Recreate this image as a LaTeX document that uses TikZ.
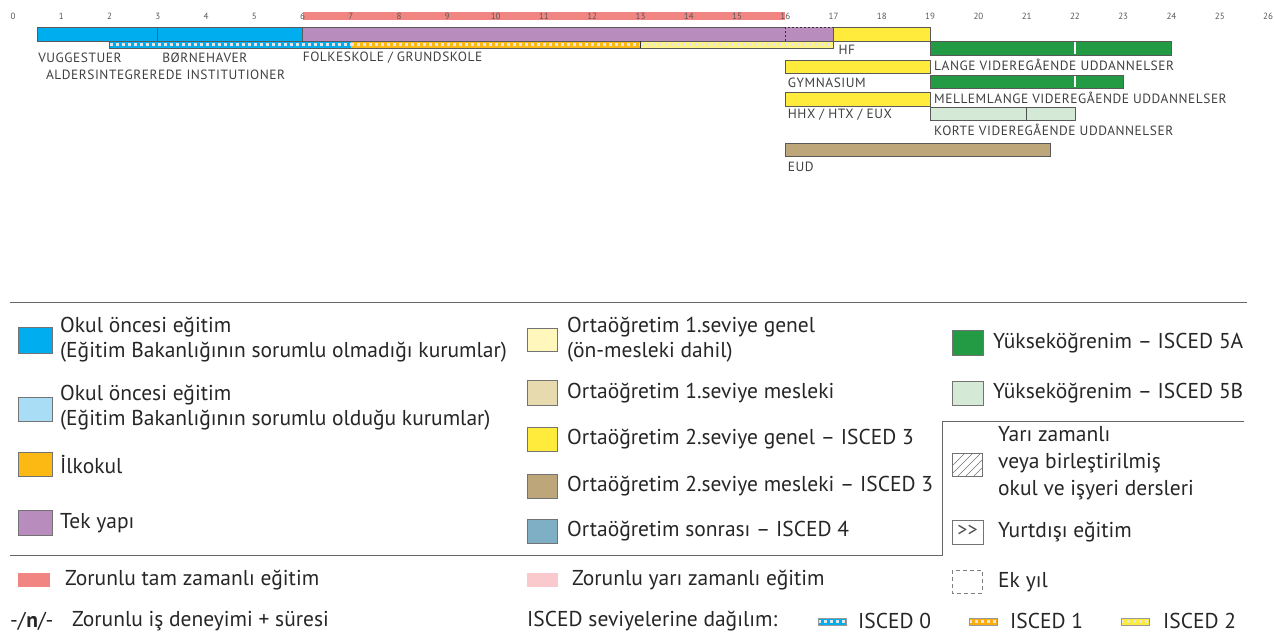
\documentclass[tikz,border=0pt]{standalone}
\usepackage{fontspec}
\setmainfont{PT Sans}
\newfontfamily\capsfont[LetterSpace=4]{PT Sans}
\usepackage[HTML]{xcolor}
\usetikzlibrary{positioning}

\definecolor{preblue}{HTML}{00AEEF}
\definecolor{prelight}{HTML}{A8DDF5}
\definecolor{primorange}{HTML}{FDB913}
\definecolor{unipurple}{HTML}{B88CBD}
\definecolor{lowgen}{HTML}{FFF7BC}
\definecolor{lowvoc}{HTML}{E6DAAE}
\definecolor{upgen}{HTML}{FFEB3B}
\definecolor{upvoc}{HTML}{BDA77A}
\definecolor{postsec}{HTML}{7FAFC4}
\definecolor{highA}{HTML}{239B45}
\definecolor{highB}{HTML}{D5EAD6}
\definecolor{fulltime}{HTML}{F18582}
\definecolor{parttime}{HTML}{F9C9CE}

\begin{document}
\begin{tikzpicture}[x=1pt, y=-1pt,
  bar/.style={draw=black!65, line width=0.8pt},
  swatch/.style={draw=black!55, line width=0.7pt},
  stripe/.style={gray!20, line width=3pt, dash pattern=on 3pt off 3pt},
  capl/.style={font=\capsfont\fontsize{13.4}{13.4}\selectfont, text=black!75, anchor=west, inner sep=0pt},
  txt/.style={font=\fontsize{21.5}{25}\selectfont, text=black!85, anchor=west, inner sep=0pt, align=left},
  tick/.style={font=\fontsize{9}{9}\selectfont, text=black!65, inner sep=0pt},
  rule/.style={draw=black!60, line width=1pt}]
\useasboundingbox (0,0) rectangle (1274,643);

% time line, one unit = one year of age
\begin{scope}[shift={(13,0)}, x=48.27pt]
\fill[fulltime] (6,12) rectangle (16,20);
\foreach \n in {0,...,26}
  \node[tick] (t\n) at (\n,16) {\n};

% pre-school and folkeskole
\fill[preblue] (0.5,27) rectangle (6,41);
\draw[bar] (0.5,27) rectangle (3,41);
\draw[bar] (3,27) rectangle (6,41);
\draw[bar, fill=unipurple] (6,27) rectangle (16,41);
\fill[unipurple] (16,27) rectangle (17,41);
\draw[black!80, line width=1pt, dash pattern=on 2pt off 2pt] (16,27) rectangle (17,41);

% ISCED levels
\fill[preblue] (2,41) rectangle (7,48);
\draw[stripe] (2,44.5) -- (7,44.5);
\fill[primorange] (7,41) rectangle (13,48);
\draw[stripe] (7,44.5) -- (13,44.5);
\fill[lowgen!60!upgen] (13,41) rectangle (17,48);
\draw[stripe] (13,44.5) -- (17,44.5);
\draw[bar] (2,41) rectangle (17,48);
\draw[black!80, line width=1.4pt] (13,41) -- (13,48);

\node[capl] (vugge) at (0.52,58) {VUGGESTUER};
\node[capl] (boern) at (3.09,58) {BØRNEHAVER};
\node[capl] (folke) at (6,58) {FOLKESKOLE / GRUNDSKOLE};
\node[capl] (alder) at (0.68,75) {ALDERSINTEGREREDE INSTITUTIONER};

% upper secondary
\draw[bar, fill=upgen] (17,27) rectangle (19,41);
\node[capl] (hf) at (17.1,50) {HF};
\draw[bar, fill=upgen] (16,60) rectangle (19,73);
\node[capl] (gym) at (16.05,83) {GYMNASIUM};
\draw[bar, fill=upgen] (16,92) rectangle (19,106);
\node[capl] (hhx) at (16.05,115) {HHX / HTX / EUX};
\draw[bar, fill=upvoc] (16,143) rectangle (21.5,156);
\node[capl] (eud) at (16.05,167) {EUD};

% higher education
\draw[bar, fill=highA] (19,41) rectangle (24,55);
\draw[white, line width=1.2pt] (22,42) -- (22,54);
\node[capl] (lange) at (19.08,65) {LANGE VIDEREGÅENDE UDDANNELSER};
\draw[bar, fill=highA] (19,75) rectangle (23,88);
\draw[white, line width=1.2pt] (22,76) -- (22,87);
\node[capl] (mellem) at (19.08,98) {MELLEMLANGE VIDEREGÅENDE UDDANNELSER};
\draw[bar, fill=highB] (19,107) rectangle (22,120);
\draw[black!70, line width=1pt] (21,107) -- (21,120);
\node[capl] (korte) at (19.08,130) {KORTE VIDEREGÅENDE UDDANNELSER};
\end{scope}

% legend frame
\draw[rule] (10,302) -- (1247,302);
\draw[rule] (10,555) -- (942,555) -- (942,421) -- (1244,421);

% column 1
\draw[swatch, fill=preblue] (18,327) rectangle (52,353);
\node[txt] (okul1) at (60,340) {Okul öncesi eğitim\\(Eğitim Bakanlığının sorumlu olmadığı kurumlar)};
\draw[swatch, fill=prelight] (18,397) rectangle (52,421);
\node[txt] (okul2) at (60,408) {Okul öncesi eğitim\\(Eğitim Bakanlığının sorumlu olduğu kurumlar)};
\draw[swatch, fill=primorange] (18,452) rectangle (52,476);
\node[txt] (ilk) at (60,464) {İlkokul};
\draw[swatch, fill=unipurple] (18,510) rectangle (52,535);
\node[txt] (tek) at (60,523) {Tek yapı};

% column 2
\draw[swatch, fill=lowgen] (527,328) rectangle (557,351);
\node[txt] (orta1g) at (567,340) {Ortaöğretim 1.seviye genel\\(ön-mesleki dahil)};
\draw[swatch, fill=lowvoc] (527,380) rectangle (557,405);
\node[txt] (orta1m) at (567,393) {Ortaöğretim 1.seviye mesleki};
\draw[swatch, fill=upgen] (527,427) rectangle (557,451);
\node[txt] (orta2g) at (567,439) {Ortaöğretim 2.seviye genel – ISCED 3};
\draw[swatch, fill=upvoc] (527,474) rectangle (557,498);
\node[txt] (orta2m) at (567,486) {Ortaöğretim 2.seviye mesleki – ISCED 3};
\draw[swatch, fill=postsec] (527,519) rectangle (557,543);
\node[txt] (sonra) at (567,531) {Ortaöğretim sonrası – ISCED 4};

% column 3
\draw[swatch, fill=highA] (952,330) rectangle (983,355);
\node[txt] (yuk5a) at (993,343) {Yükseköğrenim – ISCED 5A};
\draw[swatch, fill=highB] (952,381) rectangle (983,405);
\node[txt] (yuk5b) at (993,393) {Yükseköğrenim – ISCED 5B};
\begin{scope}
\clip (952,453) rectangle (982,476);
\foreach \k in {0,...,5}
  \draw[black!55, line width=0.6pt] (938+8*\k,480) -- ++(28,-28);
\end{scope}
\draw[swatch] (952,453) rectangle (982,476);
\node[txt, font=\fontsize{21.5}{27}\selectfont] (yari) at (998,463) {Yarı zamanlı\\veya birleştirilmiş\\okul ve işyeri dersleri};
\draw[swatch] (952,520) rectangle (983,544);
\node[font=\fontsize{20}{20}\selectfont, text=black!70, inner sep=0pt] (yurtbox) at (967.5,531) {>{}>};
\node[txt] (yurt) at (998,532) {Yurtdışı eğitim};
\draw[black!50, line width=0.8pt, dash pattern=on 4pt off 3pt] (952,570) rectangle (982,593);
\node[txt] (ekyil) at (998,582) {Ek yıl};

% bottom rows
\fill[fulltime] (18,573) rectangle (50,587);
\node[txt] (tam) at (65,580) {Zorunlu tam zamanlı eğitim};
\fill[parttime] (527,573) rectangle (558,587);
\node[txt] (yarim) at (572,580) {Zorunlu yarı zamanlı eğitim};
\node[txt] (isn) at (10,621) {-/\textbf{n}/-};
\node[txt] (isd) at (72,621) {Zorunlu iş deneyimi + süresi};
\node[txt] (dag) at (527,621) {ISCED seviyelerine dağılım:};

\fill[preblue] (818,618) rectangle (846,625);
\draw[stripe] (818,621.5) -- (846,621.5);
\draw[black!40, line width=0.5pt] (818,618) rectangle (846,625);
\node[txt] (is0) at (858,621) {ISCED 0};
\fill[primorange!80!orange] (969,618) rectangle (997,625);
\draw[stripe] (969,621.5) -- (997,621.5);
\draw[black!40, line width=0.5pt] (969,618) rectangle (997,625);
\node[txt] (is1) at (1010,621) {ISCED 1};
\fill[upgen] (1121,618) rectangle (1149,625);
\draw[stripe] (1121,621.5) -- (1149,621.5);
\draw[black!40, line width=0.5pt] (1121,618) rectangle (1149,625);
\node[txt] (is2) at (1163,621) {ISCED 2};
\end{tikzpicture}
\end{document}
